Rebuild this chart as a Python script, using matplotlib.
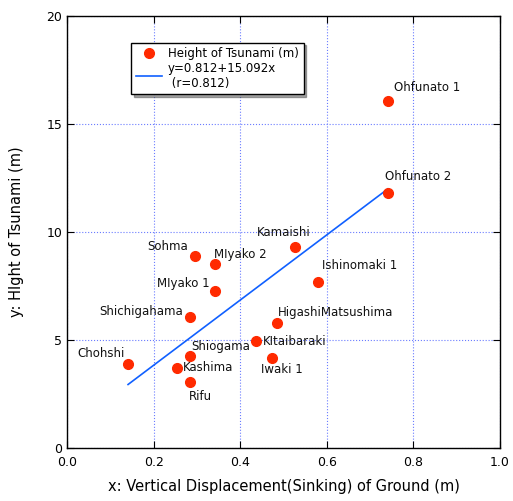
import matplotlib
matplotlib.use('Agg')
import matplotlib.pyplot as plt
import numpy as np

# ---------------- data ----------------
names = ['Ohfunato 1', 'Ohfunato 2', 'Kamaishi', 'Sohma', 'MIyako 2', 'MIyako 1',
         'Ishinomaki 1', 'Shichigahama', 'HigashiMatsushima', 'KItaibaraki',
         'Iwaki 1', 'Shiogama', 'Chohshi', 'Kashima', 'Rifu']
disp = [0.741, 0.741, 0.527, 0.296, 0.342, 0.342,
        0.580, 0.284, 0.485, 0.436,
        0.473, 0.284, 0.141, 0.254, 0.284]
height = [16.06, 11.80, 9.30, 8.90, 8.50, 7.27,
          7.70, 6.06, 5.80, 4.95,
          4.17, 4.26, 3.90, 3.70, 3.06]
fit_a = 0.812
fit_b = 15.092

# label offsets (pixels) and alignment
lab_off = [(6, 14, 'left'), (-3, 17, 'left'), (-11, 15, 'center'), (-7, 9, 'right'),
           (-1, 10, 'left'), (-5, 7, 'right'), (4, 16, 'left'), (-7, 6, 'right'),
           (1, 10, 'left'), (7, 0, 'left'), (10, -12, 'center'), (1, 9, 'left'),
           (-3, 10, 'right'), (6, 1, 'left'), (-1, -15, 'left')]

plt.rcParams['font.family'] = ['DejaVu Sans']

fig = plt.figure(figsize=(5.13, 5.01), dpi=100)
ax = fig.add_axes([67 / 513, 53 / 501, 433 / 513, 432 / 501])

xs = np.array(disp)
xl = np.array([xs.min(), xs.max()])
ax.plot(xs, height, 'o', color='#ff2a00', ms=7, zorder=3,
        label='Height of Tsunami (m)')
ax.plot(xl, fit_a + fit_b * xl, '-', color='#1060ff', lw=1.2, zorder=2,
        label='y=0.812+15.092x\n (r=0.812)')

for n, x, y, (dx, dy, ha) in zip(names, disp, height, lab_off):
    ax.annotate(n, (x, y), xytext=(dx * 0.72, dy * 0.72), textcoords='offset points',
                ha=ha, va='center', fontsize=8.5, color='#111111')

ax.set_xlim(0, 1)
ax.set_ylim(0, 20)
ax.set_xticks(np.arange(0, 1.01, 0.2))
ax.set_xticklabels(['0.0', '0.2', '0.4', '0.6', '0.8', '1.0'])
ax.set_yticks([0, 5, 10, 15, 20])
ax.tick_params(direction='in', top=True, right=True, length=5, labelsize=9)
ax.tick_params(axis='x', pad=6)
ax.grid(True, color='#6a7cff', linestyle=':', linewidth=0.8)
for s in ax.spines.values():
    s.set_linewidth(1.0)

ax.set_xlabel('x: Vertical Displacement(Sinking) of Ground (m)', fontsize=10.5, labelpad=7)
ax.set_ylabel('y: HIght of Tsunami (m)', fontsize=10.5, labelpad=16)

leg = ax.legend(loc='upper left', bbox_to_anchor=(0.135, 0.952), fontsize=8.5,
                frameon=True, fancybox=False, shadow=True, handlelength=2.2,
                borderpad=0.4, labelspacing=0.1, handletextpad=0.5)
leg.get_frame().set_edgecolor('black')
leg.get_frame().set_linewidth(1.0)

fig.savefig('out.png', dpi=100)
